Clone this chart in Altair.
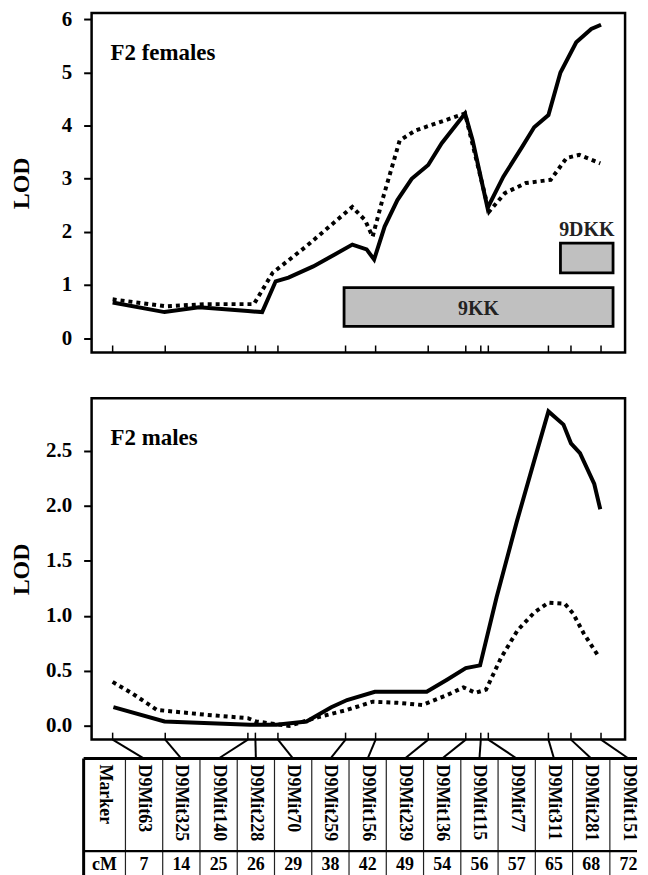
import altair as alt
import pandas as pd

FONT = "Liberation Serif"

# ---------------- data ----------------
MARKERS = ["D9Mit63", "D9Mit325", "D9Mit140", "D9Mit228", "D9Mit70", "D9Mit259",
           "D9Mit156", "D9Mit239", "D9Mit136", "D9Mit115", "D9Mit77", "D9Mit311",
           "D9Mit281", "D9Mit151"]
MARKER_CM = [7, 14, 25, 26, 29, 38, 42, 49, 54, 56, 57, 65, 68, 72]

F_SOLID_CM = [7, 13.9, 18.5, 25.0, 26.9, 28.7, 30.4, 33.7, 36.5, 38.9, 40.8, 41.8, 43.2, 44.9,
              46.8, 49.0, 50.8, 53.9, 54.9, 56.9, 59.0, 61.5, 63.1, 65.0, 66.6, 68.7, 70.7, 72]
F_SOLID_LOD = [0.67, 0.49, 0.58, 0.51, 0.49, 1.07, 1.14, 1.35, 1.57, 1.76, 1.67, 1.48, 2.1, 2.6,
               3.0, 3.26, 3.67, 4.23, 3.73, 2.45, 3.04, 3.6, 3.97, 4.2, 5.0, 5.57, 5.82, 5.9]

F_DOT_CM = [7, 14.1, 19.5, 25.8, 28.3, 32.7, 38.9, 40.6, 41.6, 42.9, 45.2, 47.3, 50.0, 53.9,
            57.1, 59.2, 62.0, 65.3, 67.4, 69.1, 71.9]
F_DOT_LOD = [0.73, 0.6, 0.64, 0.64, 1.23, 1.72, 2.47, 2.22, 1.91, 2.6, 3.72, 3.91, 4.04, 4.23,
             2.38, 2.73, 2.92, 2.98, 3.39, 3.45, 3.29]

M_SOLID_CM = [7.1, 13.9, 25.3, 28.8, 32.8, 36.1, 38.2, 41.9, 48.8, 51.5, 54.0, 55.9, 58.1,
              60.8, 63.1, 65.0, 67.0, 68.0, 69.2, 71.1, 71.9]
M_SOLID_LOD = [0.17, 0.04, 0.01, 0.01, 0.04, 0.17, 0.235, 0.31, 0.31, 0.42, 0.525, 0.55, 1.17,
               1.86, 2.41, 2.86, 2.74, 2.57, 2.48, 2.2, 1.97]

M_DOT_CM = [7, 9.5, 12.9, 19.6, 25.0, 26.1, 30.5, 34.4, 38.2, 41.6, 44.9, 48.2, 51.5, 53.7,
            55.3, 56.7, 58.7, 60.9, 63.1, 65.0, 67.2, 68.3, 69.7, 71.6]
M_DOT_LOD = [0.40, 0.30, 0.145, 0.10, 0.07, 0.04, 0.0, 0.08, 0.145, 0.22, 0.21, 0.19, 0.28,
             0.35, 0.30, 0.33, 0.62, 0.87, 1.03, 1.12, 1.11, 1.02, 0.84, 0.64]

QTL_NAMES = ["9KK", "9DKK"]
QTL_CM_START = [37.8, 66.6]
QTL_CM_END = [73.6, 73.6]
QTL_LOD_LOW = [0.22, 1.23]
QTL_LOD_HIGH = [0.95, 1.79]

# ---------------- layout ----------------
W = 536
H_TOP = 341
H_BOT = 343
XDOM = [4.2, 75.2]
TABLE_LEFT = -8      # px relative to plot left
TABLE_RIGHT = 548    # px relative to plot left (table is cut at the page edge)
FIRST_W = 42
COL_W = 37.44
TABLE_TOP = 19       # px below bottom plot frame
ROW_DIV = 112
CM_ROW = 126
TABLE_BOTTOM = 145


def px_to_cm(px):
    return XDOM[0] + px / W * (XDOM[1] - XDOM[0])


edges_px = [TABLE_LEFT, TABLE_LEFT + FIRST_W]
for i in range(len(MARKERS)):
    edges_px.append(edges_px[-1] + COL_W)
centers_px = [(edges_px[i] + edges_px[i + 1]) / 2 for i in range(len(edges_px) - 1)]
edges_cm = [px_to_cm(p) for p in edges_px if p <= TABLE_RIGHT]
centers_cm = [px_to_cm(p) for p in centers_px]
right_cm = px_to_cm(TABLE_RIGHT)

xs = alt.Scale(domain=XDOM, nice=False, zero=False)
ys_top = alt.Scale(domain=[-0.27, 6.12], nice=False, zero=False)
ys_bot = alt.Scale(domain=[-0.125, 2.98], nice=False, zero=False)

ax_top = alt.Axis(values=[0, 1, 2, 3, 4, 5, 6], format="d", title="LOD")
ax_bot = alt.Axis(values=[0, 0.5, 1.0, 1.5, 2.0, 2.5], format=".1f", title="LOD")

markers_df = pd.DataFrame({"cM": MARKER_CM, "name": MARKERS, "cc": centers_cm[1:]})


def series_df(cm, lod):
    return pd.DataFrame({"cM": cm, "LOD": lod})


def line_layers(solid_cm, solid_lod, dot_cm, dot_lod, ys, ax):
    dotted = alt.Chart(series_df(dot_cm, dot_lod)).mark_line(
        color="black", strokeWidth=4, strokeDash=[4, 4], strokeCap="butt"
    ).encode(x=alt.X("cM:Q", scale=xs, axis=None),
             y=alt.Y("LOD:Q", scale=ys, axis=ax, title="LOD"))
    solid = alt.Chart(series_df(solid_cm, solid_lod)).mark_line(
        color="black", strokeWidth=4
    ).encode(x=alt.X("cM:Q", scale=xs, axis=None),
             y=alt.Y("LOD:Q", scale=ys, axis=ax, title="LOD"))
    return dotted, solid


def ticks(h):
    return alt.Chart(markers_df).mark_rule(color="black", strokeWidth=1.5).encode(
        x=alt.X("cM:Q", scale=xs, axis=None), y=alt.value(h), y2=alt.value(h - 7))


def panel_label(txt):
    return alt.Chart(pd.DataFrame({"t": [txt]})).mark_text(
        font=FONT, fontSize=23, fontWeight="bold", align="left", baseline="alphabetic",
        color="black"
    ).encode(x=alt.value(19), y=alt.value(47), text="t:N")


# ---------------- top panel ----------------
qtl_df = pd.DataFrame({"name": QTL_NAMES, "start": QTL_CM_START, "end": QTL_CM_END,
                       "low": QTL_LOD_LOW, "high": QTL_LOD_HIGH})
qtl_df["mid"] = (qtl_df["start"] + qtl_df["end"]) / 2
qtl_df["midy"] = (qtl_df["low"] + qtl_df["high"]) / 2

qtl_rect = alt.Chart(qtl_df).mark_rect(fill="#c0c0c0", stroke="black", strokeWidth=2.8).encode(
    x=alt.X("start:Q", scale=xs, axis=None), x2="end:Q",
    y=alt.Y("low:Q", scale=ys_top, axis=ax_top, title="LOD"), y2="high:Q")

qtl_in = alt.Chart(qtl_df[qtl_df["name"] == "9KK"]).mark_text(
    font=FONT, fontSize=20, fontWeight="bold", color="#222222", baseline="middle", dy=2
).encode(x=alt.X("mid:Q", scale=xs, axis=None),
         y=alt.Y("midy:Q", scale=ys_top, axis=ax_top, title="LOD"), text="name:N")

qtl_above = alt.Chart(qtl_df[qtl_df["name"] == "9DKK"]).mark_text(
    font=FONT, fontSize=20, fontWeight="bold", color="#222222", baseline="alphabetic", dy=-7
).encode(x=alt.X("mid:Q", scale=xs, axis=None),
         y=alt.Y("high:Q", scale=ys_top, axis=ax_top, title="LOD"), text="name:N")

f_dot, f_solid = line_layers(F_SOLID_CM, F_SOLID_LOD, F_DOT_CM, F_DOT_LOD, ys_top, ax_top)

top = alt.layer(qtl_rect, qtl_in, qtl_above, f_dot, f_solid, ticks(H_TOP),
                panel_label("F2 females")).properties(width=W, height=H_TOP)

# ---------------- bottom panel + table ----------------
m_dot, m_solid = line_layers(M_SOLID_CM, M_SOLID_LOD, M_DOT_CM, M_DOT_LOD, ys_bot, ax_bot)

connectors = alt.Chart(markers_df).mark_rule(color="black", strokeWidth=2).encode(
    x=alt.X("cM:Q", scale=xs, axis=None), x2="cc:Q",
    y=alt.value(H_BOT), y2=alt.value(H_BOT + TABLE_TOP))

inner_df = pd.DataFrame({"e": edges_cm[1:]})
inner_lines = alt.Chart(inner_df).mark_rule(color="#222222", strokeWidth=1.2).encode(
    x=alt.X("e:Q", scale=xs, axis=None),
    y=alt.value(H_BOT + TABLE_TOP), y2=alt.value(H_BOT + TABLE_BOTTOM))

left_df = pd.DataFrame({"e": [edges_cm[0]]})
left_border = alt.Chart(left_df).mark_rule(color="black", strokeWidth=3).encode(
    x=alt.X("e:Q", scale=xs, axis=None),
    y=alt.value(H_BOT + TABLE_TOP), y2=alt.value(H_BOT + TABLE_BOTTOM))

hz_df = pd.DataFrame({"a": [edges_cm[0]], "b": [right_cm]})
top_border = alt.Chart(hz_df).mark_rule(color="black", strokeWidth=3).encode(
    x=alt.X("a:Q", scale=xs, axis=None), x2="b:Q", y=alt.value(H_BOT + TABLE_TOP))
row_div = alt.Chart(hz_df).mark_rule(color="black", strokeWidth=2.2).encode(
    x=alt.X("a:Q", scale=xs, axis=None), x2="b:Q", y=alt.value(H_BOT + ROW_DIV))

name_df = pd.DataFrame({"cc": centers_cm, "name": ["Marker"] + MARKERS})
names = alt.Chart(name_df).mark_text(
    font=FONT, fontSize=18, fontWeight="bold", angle=90, align="left", baseline="middle",
    color="black"
).encode(x=alt.X("cc:Q", scale=xs, axis=None), y=alt.value(H_BOT + TABLE_TOP + 6),
         text="name:N")

cm_df = pd.DataFrame({"cc": centers_cm, "lab": ["cM"] + [str(v) for v in MARKER_CM]})
cm_row = alt.Chart(cm_df).mark_text(
    font=FONT, fontSize=18, fontWeight="bold", align="center", baseline="middle",
    color="black"
).encode(x=alt.X("cc:Q", scale=xs, axis=None), y=alt.value(H_BOT + CM_ROW), text="lab:N")

bottom = alt.layer(m_dot, m_solid, ticks(H_BOT), panel_label("F2 males"), connectors,
                   inner_lines, left_border, top_border, row_div, names, cm_row
                   ).properties(width=W, height=H_BOT)

chart = alt.vconcat(top, bottom, spacing=42).properties(
    padding={"left": 0, "top": -3, "right": 0, "bottom": 0}
).configure_view(stroke="black", strokeWidth=2.5).configure_axis(
    labelFont=FONT, labelFontSize=21, labelFontWeight="bold", labelColor="black",
    labelPadding=12, tickColor="black", tickWidth=2, tickSize=8, domain=False, grid=False,
    titleFont=FONT, titleFontSize=24, titleFontWeight="bold", titleColor="black",
    titlePadding=9, minExtent=49
)

chart.save("out.html", embed_options={"renderer": "svg", "actions": False})
